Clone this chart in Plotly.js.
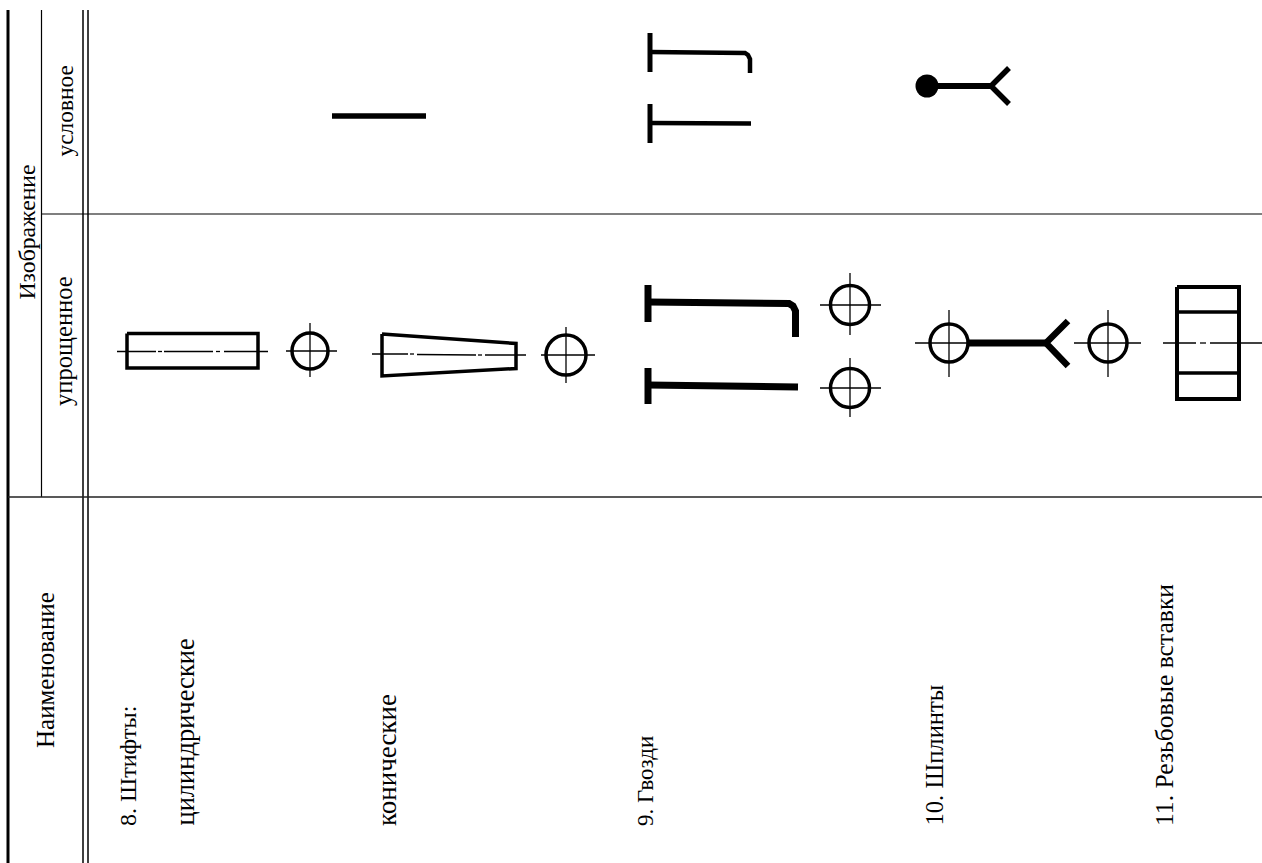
<!DOCTYPE html>
<html><head><meta charset="utf-8">
<script src="https://cdn.plot.ly/plotly-3.0.1.min.js"></script>
<style>html,body{margin:0;padding:0;background:#fff}#c{width:1262px;height:863px}</style>
</head><body><div id="c"></div>
<script>
// text
const labels = ["Изображение","условное","упрощенное","Наименование","8. Штифты:","цилиндрические","конические","9. Гвозди","10. Шплинты","11. Резьбовые вставки"];
const labelX = [26,64,63,45,128,184,387,645,934,1164];
const labelBottom = [301,158,407,749,827,827,827,827,827,827];
const labelSize = [23.7,23.4,24.6,25,24,26.5,27,23,24.6,25.6];

// table rules
const outerX = [8,8];           const outerY = [10,863];
const subColX = [41.5,41.5];    const subColY = [10,497];
const doubleX = [83,83,null,88,88]; const doubleY = [10,863,null,10,863];
const rowAX = [42,1262];        const rowAY = [214,214];
const rowBX = [8,1262];         const rowBY = [497,497];

// conventional images
const pinBarX = [332,426];      const pinBarY = [116,116];
const nailHeadsX = [650,650,null,650,650]; const nailHeadsY = [33,72,null,104,143];
const nailBentX = [650,740,745,748,750,750]; const nailBentY = [52,52.5,53,55,59,73];
const nailFlatX = [650,751];    const nailFlatY = [123,123.5];
const cotterStemX = [927,991];  const cotterStemY = [86,86];
const cotterForkX = [1009,991,1009]; const cotterForkY = [68,86,104];
const dotX = [927];             const dotY = [86];

// simplified images
const cylX = [127,258,258,127,127]; const cylY = [333.5,333.5,368,368,333.5];
const coneX = [382,516,516,382,382]; const coneY = [334,343.5,368.5,376,334];
const sHeadsX = [648,648,null,648,648]; const sHeadsY = [285,322,null,368,404];
const sBentX = [648,782,789,793,795.5,795.5]; const sBentY = [302,303.5,303.5,306,311,337];
const sFlatX = [648,798];       const sFlatY = [385,387];
const sStemX = [969,1046];      const sStemY = [343,343];
const sForkX = [1068,1046,1068]; const sForkY = [321,343,366];
const insX = [1177,1239,1239,1177,1177]; const insY = [287,287,399,399,287];
const insBandsX = [1177,1239,null,1177,1239]; const insBandsY = [312,312,null,373,373];

const circleX = [310,566,850,850,949,1108];
const circleY = [351,355,305,388,343,343];
const circleD = [36,40,39,39,38,38];

// thin centre lines
const centreX = [
 117,156,null,158,162,null,164,213,null,216,220,null,224,268,null,
 372,408,null,410,414,null,417,476,null,478,482,null,485,526,null,
 1163,1196,null,1200,1206,null,1210,1262,null,
 286,337,null,310,310,null,541,595,null,566,566,null,
 820,881,null,850,850,null,820,881,null,850,850,null,
 915,972,null,949,949,null,1074,1141,null,1108,1108];
const centreY = [
 351.5,351.5,null,351.5,351.5,null,351.5,351.5,null,351.5,351.5,null,351.5,351.5,null,
 354,354,null,354,354,null,354.5,355,null,355,355,null,355,355,null,
 343,343,null,343,343,null,343,343,null,
 351,351,null,323,377,null,355,355,null,327,383,null,
 305,305,null,273,335,null,388,388,null,358,417,null,
 343,343,null,310,377,null,343,343,null,310,377];

function ln(x,y,w,color){return {x:x,y:y,mode:'lines',type:'scatter',line:{color:color||'#000',width:w,shape:'linear'},connectgaps:false,hoverinfo:'skip',showlegend:false};}

const traces = [
 ln(outerX,outerY,3), ln(subColX,subColY,1.2), ln(doubleX,doubleY,1.5),
 ln(rowAX,rowAY,1.2,'#000'), ln(rowBX,rowBY,1.6,'#222'),
 ln(centreX,centreY,1.3),
 ln(pinBarX,pinBarY,5.5), ln(nailHeadsX,nailHeadsY,5), ln(nailBentX,nailBentY,4.5), ln(nailFlatX,nailFlatY,4.5),
 ln(cotterStemX,cotterStemY,6), ln(cotterForkX,cotterForkY,5.5),
 ln(cylX,cylY,3.5), ln(coneX,coneY,3.5), ln(sHeadsX,sHeadsY,7), ln(sBentX,sBentY,7), ln(sFlatX,sFlatY,7),
 ln(sStemX,sStemY,7), ln(sForkX,sForkY,6.5), ln(insX,insY,4), ln(insBandsX,insBandsY,3.5),
 {x:circleX,y:circleY,mode:'markers',type:'scatter',hoverinfo:'skip',showlegend:false,
  marker:{symbol:'circle-open',size:circleD,color:'#000',opacity:1,line:{color:'#000',width:3.5}}},
 {x:dotX,y:dotY,mode:'markers',type:'scatter',hoverinfo:'skip',showlegend:false,
  marker:{symbol:'circle',size:23,color:'#000',opacity:1}}
];

const annotations = labels.map((t,i)=>({text:t,x:labelX[i],y:labelBottom[i],xref:'x',yref:'y',
  textangle:-90,showarrow:false,xanchor:'center',yanchor:'bottom',borderpad:0,
  font:{family:'"Liberation Serif","Times New Roman",serif',size:labelSize[i],color:'#000'}}));

const hiddenAxis = {visible:false,showgrid:false,zeroline:false,fixedrange:true};
Plotly.newPlot('c',traces,{
  width:1262,height:863,margin:{l:0,r:0,t:0,b:0,pad:0},
  paper_bgcolor:'#fff',plot_bgcolor:'#fff',showlegend:false,
  xaxis:Object.assign({range:[0,1262]},hiddenAxis),
  yaxis:Object.assign({range:[863,0]},hiddenAxis),
  annotations:annotations
},{displayModeBar:false,staticPlot:true});
</script></body></html>
